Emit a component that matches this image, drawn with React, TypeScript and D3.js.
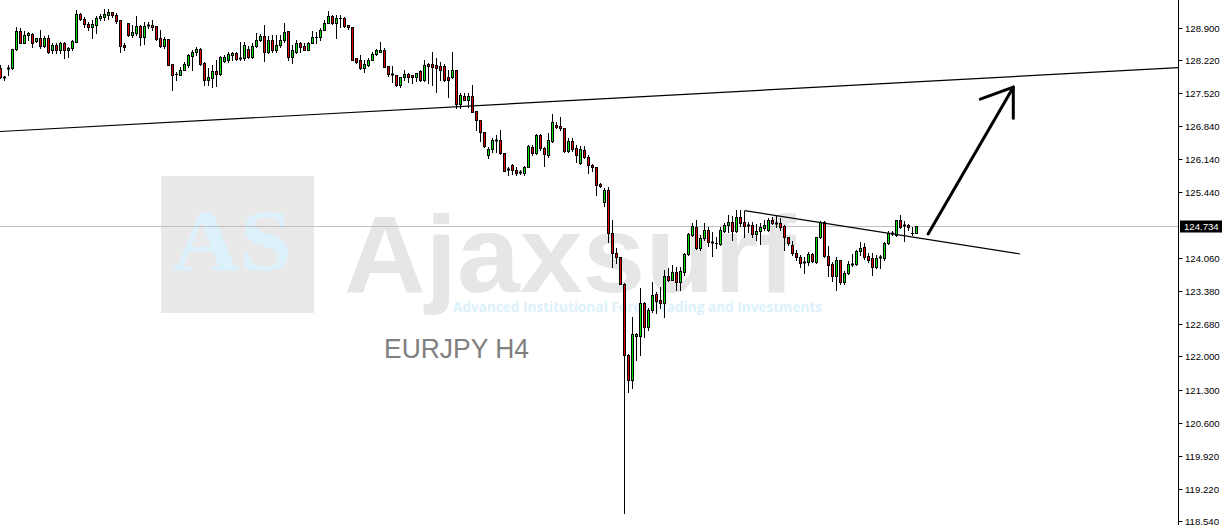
import React from 'react';
import * as d3 from 'd3';

// ---- EURJPY H4 candles (oldest -> newest) ----
const opens = [
  128.05, 127.86, 128.03, 128.05, 128.45, 128.82, 128.58, 128.75, 128.77, 128.61,
  128.68, 128.51, 128.68, 128.42, 128.54, 128.43, 128.58, 128.42, 128.47, 128.60,
  129.19, 129.07, 128.98, 128.92, 128.96, 129.10, 129.13, 129.17, 129.22, 129.16,
  129.06, 128.54, 128.99, 128.74, 128.79, 128.93, 128.70, 128.96, 128.96, 128.93,
  128.68, 128.51, 128.66, 128.13, 127.93, 127.91, 128.00, 128.12, 128.31, 128.38,
  128.45, 128.15, 127.79, 127.85, 127.99, 127.93, 128.20, 128.21, 128.33, 128.37,
  128.26, 128.26, 128.45, 128.29, 128.51, 128.64, 128.72, 128.39, 128.63, 128.42,
  128.54, 128.63, 128.83, 128.29, 128.39, 128.58, 128.51, 128.44, 128.58, 128.70,
  128.70, 128.86, 129.00, 129.14, 129.00, 129.11, 129.10, 128.96, 128.91, 128.26,
  128.21, 128.06, 128.12, 128.21, 128.34, 128.39, 128.44, 128.09, 127.93, 127.91,
  127.70, 127.87, 127.93, 127.91, 127.87, 127.99, 127.79, 128.14, 128.14, 128.12,
  128.09, 128.09, 127.86, 127.86, 128.01, 127.30, 127.46, 127.39, 127.46, 127.16,
  126.96, 126.71, 126.23, 126.35, 126.55, 126.55, 126.26, 125.94, 126.02, 125.92,
  125.87, 125.85, 125.98, 126.39, 126.26, 126.65, 126.37, 126.23, 126.53, 126.86,
  126.83, 126.79, 126.32, 126.53, 126.37, 126.05, 126.33, 126.19, 126.02, 125.97,
  125.62, 125.24, 125.49, 124.58, 124.17, 124.08, 123.52, 122.03, 121.51, 122.42,
  122.42, 123.12, 122.61, 122.97, 123.31, 123.19, 123.12, 123.68, 123.60, 123.77,
  123.56, 123.77, 124.15, 124.55, 124.71, 124.27, 124.48, 124.66, 124.40, 124.38,
  124.36, 124.64, 124.76, 124.82, 124.64, 124.92, 124.82, 124.76, 124.76, 124.57,
  124.64, 124.69, 124.66, 124.86, 124.80, 124.80, 124.73, 124.50, 124.34, 124.17,
  124.08, 123.95, 123.98, 124.15, 123.98, 124.50, 124.82, 124.10, 123.94, 123.68,
  124.02, 123.56, 123.75, 123.94, 123.94, 124.21, 124.29, 124.10, 124.06, 123.87,
  124.08, 124.06, 124.38, 124.59, 124.55, 124.87, 124.76, 124.76, 124.58, 124.59,
];
const highs = [
  128.12, 127.88, 128.12, 128.45, 128.91, 128.90, 128.82, 128.81, 128.79, 128.69,
  128.85, 128.72, 128.75, 128.57, 128.58, 128.60, 128.60, 128.50, 128.65, 129.27,
  129.21, 129.12, 129.02, 129.06, 129.14, 129.19, 129.28, 129.28, 129.23, 129.20,
  129.06, 128.58, 129.00, 128.96, 129.14, 128.96, 129.02, 129.02, 129.05, 128.93,
  128.86, 128.70, 128.66, 128.13, 127.97, 128.08, 128.18, 128.35, 128.43, 128.49,
  128.47, 128.18, 128.05, 128.12, 128.22, 128.30, 128.33, 128.39, 128.39, 128.39,
  128.60, 128.60, 128.51, 128.58, 128.79, 128.77, 128.96, 128.72, 128.75, 128.75,
  128.75, 128.99, 128.83, 128.54, 128.64, 128.60, 128.57, 128.60, 128.82, 128.80,
  128.89, 129.06, 129.25, 129.17, 129.17, 129.17, 129.12, 128.96, 128.91, 128.26,
  128.33, 128.22, 128.26, 128.39, 128.45, 128.60, 128.47, 128.09, 128.10, 127.91,
  127.86, 128.01, 127.95, 127.91, 127.95, 128.01, 128.21, 128.16, 128.39, 128.26,
  128.18, 128.14, 128.01, 128.39, 128.02, 127.53, 127.53, 127.53, 127.70, 127.16,
  126.96, 126.71, 126.39, 126.58, 126.65, 126.75, 126.26, 125.98, 126.04, 125.98,
  125.91, 125.99, 126.44, 126.44, 126.67, 126.67, 126.40, 126.68, 127.09, 126.92,
  127.03, 126.79, 126.58, 126.58, 126.44, 126.41, 126.41, 126.23, 126.04, 125.98,
  125.63, 125.53, 125.56, 124.87, 124.27, 124.08, 123.54, 122.06, 122.83, 122.49,
  123.43, 123.14, 123.01, 123.56, 123.35, 123.46, 123.81, 123.85, 123.92, 123.87,
  123.87, 124.16, 124.59, 124.80, 124.87, 124.55, 124.80, 124.72, 124.61, 124.50,
  124.72, 124.80, 124.97, 124.94, 125.08, 125.07, 125.06, 124.82, 124.82, 124.78,
  124.79, 124.86, 124.90, 124.92, 124.97, 124.90, 124.76, 124.51, 124.43, 124.23,
  124.13, 124.09, 124.19, 124.17, 124.51, 124.85, 124.85, 124.31, 123.98, 124.08,
  124.03, 123.80, 124.01, 124.15, 124.23, 124.40, 124.37, 124.16, 124.16, 124.13,
  124.13, 124.40, 124.64, 124.64, 124.87, 124.97, 124.85, 124.78, 124.72, 124.74,
];
const lows = [
  127.84, 127.80, 127.91, 128.04, 128.43, 128.57, 128.57, 128.64, 128.49, 128.59,
  128.48, 128.49, 128.36, 128.37, 128.36, 128.36, 128.26, 128.28, 128.43, 128.60,
  129.05, 128.92, 128.85, 128.68, 128.79, 129.06, 129.06, 129.07, 129.13, 129.00,
  128.39, 128.43, 128.72, 128.71, 128.75, 128.54, 128.56, 128.89, 128.85, 128.65,
  128.50, 128.47, 128.12, 127.60, 127.80, 127.91, 128.00, 128.08, 128.02, 128.33,
  128.12, 127.70, 127.70, 127.66, 127.67, 127.91, 128.18, 128.18, 128.22, 128.22,
  128.22, 128.22, 128.26, 128.26, 128.50, 128.62, 128.20, 128.37, 128.39, 128.39,
  128.49, 128.60, 128.23, 128.16, 128.36, 128.39, 128.42, 128.43, 128.57, 128.58,
  128.64, 128.85, 128.99, 128.98, 128.69, 128.91, 128.91, 128.87, 128.23, 128.15,
  128.04, 127.97, 128.09, 128.21, 128.33, 128.39, 128.08, 127.88, 127.76, 127.67,
  127.65, 127.80, 127.76, 127.73, 127.78, 127.78, 127.78, 127.74, 127.70, 127.55,
  127.80, 127.78, 127.45, 127.84, 127.21, 127.21, 127.38, 127.24, 127.13, 126.76,
  126.53, 126.39, 126.16, 126.30, 126.30, 126.25, 125.89, 125.81, 125.82, 125.81,
  125.82, 125.81, 125.97, 126.23, 126.25, 126.33, 125.99, 126.19, 126.50, 126.79,
  126.75, 126.30, 126.30, 126.32, 126.08, 126.04, 126.16, 125.84, 125.90, 125.39,
  125.55, 125.15, 124.40, 123.87, 123.95, 123.52, 118.71, 121.25, 121.33, 121.92,
  122.03, 122.40, 122.55, 122.93, 122.91, 123.01, 122.83, 123.59, 123.60, 123.40,
  123.39, 123.71, 124.12, 124.52, 124.25, 124.23, 124.44, 124.31, 124.10, 124.27,
  124.34, 124.61, 124.61, 124.45, 124.61, 124.73, 124.51, 124.61, 124.51, 124.45,
  124.36, 124.65, 124.64, 124.78, 124.71, 124.65, 124.23, 124.34, 124.12, 124.03,
  123.88, 123.75, 123.92, 123.98, 123.96, 124.48, 124.08, 123.68, 123.59, 123.40,
  123.53, 123.52, 123.73, 123.89, 123.92, 124.13, 124.04, 123.98, 123.71, 123.85,
  123.85, 124.03, 124.36, 124.55, 124.52, 124.69, 124.43, 124.66, 124.55, 124.58,
];
const closes = [
  127.86, 127.84, 128.05, 128.45, 128.82, 128.58, 128.75, 128.79, 128.58, 128.68,
  128.51, 128.68, 128.39, 128.54, 128.42, 128.57, 128.42, 128.47, 128.61, 129.19,
  129.07, 128.98, 128.92, 128.98, 129.10, 129.14, 129.19, 129.22, 129.16, 129.03,
  128.52, 128.50, 128.74, 128.80, 128.93, 128.70, 128.93, 128.94, 128.92, 128.67,
  128.51, 128.66, 128.12, 127.91, 127.92, 128.01, 128.14, 128.33, 128.39, 128.45,
  128.14, 127.79, 127.86, 127.99, 127.93, 128.28, 128.28, 128.35, 128.36, 128.25,
  128.25, 128.54, 128.29, 128.51, 128.64, 128.72, 128.39, 128.63, 128.43, 128.54,
  128.64, 128.80, 128.29, 128.43, 128.57, 128.50, 128.44, 128.58, 128.70, 128.71,
  128.86, 129.00, 129.14, 129.00, 129.10, 129.10, 128.93, 128.91, 128.23, 128.18,
  128.06, 128.14, 128.22, 128.35, 128.42, 128.44, 128.08, 127.93, 127.90, 127.70,
  127.86, 127.93, 127.86, 127.86, 127.95, 127.79, 128.12, 128.10, 128.08, 128.05,
  128.02, 127.80, 127.80, 128.02, 127.30, 127.49, 127.39, 127.46, 127.13, 126.96,
  126.71, 126.41, 126.35, 126.54, 126.52, 126.26, 125.89, 125.91, 125.92, 125.84,
  125.85, 125.98, 126.41, 126.26, 126.65, 126.37, 126.24, 126.54, 126.92, 126.82,
  126.79, 126.32, 126.53, 126.35, 126.23, 126.35, 126.19, 126.02, 125.97, 125.60,
  125.57, 125.49, 124.58, 124.17, 124.08, 123.52, 122.03, 121.51, 122.47, 122.48,
  123.13, 122.61, 122.97, 123.29, 123.17, 123.12, 123.68, 123.60, 123.77, 123.56,
  123.80, 124.15, 124.57, 124.73, 124.27, 124.48, 124.66, 124.40, 124.37, 124.37,
  124.65, 124.76, 124.82, 124.64, 124.92, 124.80, 124.73, 124.73, 124.57, 124.64,
  124.71, 124.76, 124.86, 124.80, 124.78, 124.72, 124.50, 124.38, 124.16, 124.08,
  123.95, 123.98, 124.15, 124.01, 124.50, 124.82, 124.10, 123.92, 123.68, 124.02,
  123.56, 123.75, 123.94, 123.92, 124.22, 124.27, 124.08, 124.03, 123.87, 124.06,
  124.06, 124.38, 124.59, 124.57, 124.87, 124.71, 124.73, 124.71, 124.58, 124.734,
];

const priceTicks = [128.9, 128.22, 127.52, 126.84, 126.14, 125.44, 124.06, 123.38, 122.68, 122.0, 121.3, 120.6, 119.92, 119.22, 118.54];
const currentPrice = 124.734;
const symbolLabel = 'EURJPY H4';
const brandName = 'Ajaxsurf';
const brandInitials = 'AS';
const brandTagline = 'Advanced Institutional Forex Trading and Investments';

// drawn objects: [bar index, price]
const longTrendLine: [number, number][] = [[0, 126.72], [294.4, 128.06]];
const flagLine: [number, number][] = [[186, 125.06], [254.9, 124.15]];
const arrowLine: [number, number][] = [[231.9, 124.57], [253.2, 127.65]];

const W = 1223;
const H = 525;
const AXIS_X = 1178.5;
const GREEN = '#00e000';
const RED = '#e00000';

export default function App() {
  const x = d3.scaleLinear().domain([0, opens.length - 1]).range([0.5, 0.5 + 4 * (opens.length - 1)]);
  const y = d3.scaleLinear().domain([118.54, 128.9]).range([521.3, 27.6]);
  const sy = (p: number) => Math.round(y(p));

  // extend long trend line across the plot
  const [[i0, p0], [i1, p1]] = longTrendLine;
  const lx0 = x(i0), ly0 = y(p0), lx1 = x(i1), ly1 = y(p1);
  const slope = (ly1 - ly0) / (lx1 - lx0);
  const longPath = `M0,${ly0 - slope * lx0}L${AXIS_X},${ly0 + slope * (AXIS_X - lx0)}`;

  const lineGen = d3.line<[number, number]>().x((d) => x(d[0])).y((d) => y(d[1]));

  const tipX = x(arrowLine[1][0]);
  const tipY = y(arrowLine[1][1]);

  const cpY = sy(currentPrice) + 0.5;

  return (
    <div style={{ position: 'absolute', left: 0, top: 0, width: W, height: H, background: '#fff' }}>
      <svg width={W} height={H} style={{ display: 'block' }}>
        <rect x={0} y={0} width={W} height={H} fill="#fff" />
        {/* watermark */}
        <rect x={161} y={176} width={153} height={137} fill="#e9e9e9" />
        <text x={172} y={270} fontFamily="'Liberation Serif', 'Times New Roman', serif" fontWeight="bold" fontSize={86}
          fill="#dcf1fb" textLength={120} lengthAdjust="spacingAndGlyphs">{brandInitials}</text>
        <text x={344} y={292} fontFamily="'Liberation Sans', Arial, sans-serif" fontWeight="bold" fontSize={109}
          fill="#e6e6e6" textLength={452} lengthAdjust="spacingAndGlyphs">{brandName}</text>
        <text x={453} y={311.5} fontFamily="'Open Sans', 'Liberation Sans', sans-serif" fontWeight="bold" fontSize={14}
          fill="#dcf1fb" textLength={369} lengthAdjust="spacingAndGlyphs">{brandTagline}</text>
        <text x={384} y={358} fontFamily="'Liberation Sans', Arial, sans-serif" fontSize={28}
          fill="#808080" textLength={145} lengthAdjust="spacingAndGlyphs">{symbolLabel}</text>

        {/* current price line */}
        <line x1={0} x2={AXIS_X + 1} y1={cpY} y2={cpY} stroke="#c0c0c0" strokeWidth={1} />

        {/* candles */}
        <g>
          {opens.map((o, i) => {
            const c = closes[i];
            const cx = x(i);
            const yh = sy(highs[i]);
            const yl = sy(lows[i]);
            const top = sy(Math.max(o, c));
            const bot = sy(Math.min(o, c));
            const up = c > o;
            return (
              <g key={i}>
                <line x1={cx} x2={cx} y1={yh} y2={yl + 1} stroke="#000" strokeWidth={1} />
                {bot - top >= 2 ? (
                  <rect x={cx - 1} y={top + 0.5} width={2} height={bot - top} fill={up ? GREEN : RED} stroke="#000" strokeWidth={1} />
                ) : (
                  <line x1={cx - 1.5} x2={cx + 1.5} y1={top + 0.5} y2={top + 0.5} stroke="#000" strokeWidth={bot - top >= 1 ? 2 : 1} />
                )}
              </g>
            );
          })}
        </g>

        {/* trend lines */}
        <path d={longPath} stroke="#000" strokeWidth={1.2} fill="none" />
        <path d={lineGen(flagLine) || ''} stroke="#000" strokeWidth={1.1} fill="none" />

        {/* arrow */}
        <path d={lineGen(arrowLine) || ''} stroke="#000" strokeWidth={3} fill="none" strokeLinecap="round" />
        <path d={`M${tipX - 33},${tipY + 12}L${tipX},${tipY}L${tipX},${tipY + 31}`} stroke="#000" strokeWidth={3}
          fill="none" strokeLinecap="round" strokeLinejoin="round" />

        {/* price axis */}
        <line x1={AXIS_X} x2={AXIS_X} y1={0} y2={H} stroke="#000" strokeWidth={1} />
        {priceTicks.map((t) => {
          const ty = sy(t) + 0.5;
          return (
            <g key={t}>
              <line x1={AXIS_X} x2={AXIS_X + 4} y1={ty} y2={ty} stroke="#000" strokeWidth={1} />
              <text x={1185} y={ty} dominantBaseline="central" fontFamily="'Liberation Sans', Arial, sans-serif"
                fontSize={9.6} fill="#000">{t.toFixed(3)}</text>
            </g>
          );
        })}
        <rect x={AXIS_X + 1.5} y={cpY - 6} width={42} height={12} fill="#000" />
        <text x={1184} y={cpY} dominantBaseline="central" fontFamily="'Liberation Sans', Arial, sans-serif"
          fontSize={9.6} fill="#fff">{currentPrice.toFixed(3)}</text>
      </svg>
    </div>
  );
}
